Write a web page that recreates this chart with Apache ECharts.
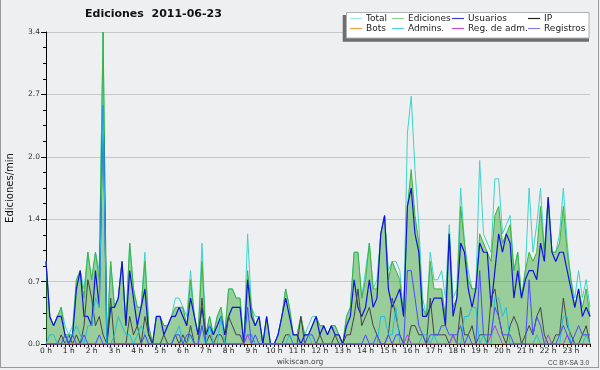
<!DOCTYPE html>
<html>
<head>
<meta charset="utf-8">
<script src="https://cdn.jsdelivr.net/npm/echarts@6/dist/echarts.min.js"></script>
<style>html,body{margin:0;padding:0;background:#eeeff0;}#c{width:600px;height:370px;}</style>
</head>
<body>
<div id="c"></div>
<script>
// Tick labels
var hourLabels = ['0 h','1 h','2 h','3 h','4 h','5 h','6 h','7 h','8 h','9 h','10 h','11 h',
  '12 h','13 h','14 h','15 h','16 h','17 h','18 h','19 h','20 h','21 h','22 h','23 h'];
var minuteSlots = ['00','10','20','30','40','50'];
var yTicks = [0, 0.68, 1.36, 2.04, 2.72, 3.4];

// Series values (edits/min, one value per 10 minutes, 6 per hour)
var total = [
  0.9,0.3,0.2,0.3,0.4,0.2, 0.1,0.2,0.7,0.8,0.6,1.0, 0.7,1.0,0.8,3.4,0.0,0.9, 0.4,0.5,0.9,0.2,1.1,0.6,
  0.4,0.4,1.0,0.2,0.0,0.3, 0.3,0.2,0.2,0.3,0.5,0.5, 0.4,0.3,0.8,0.3,0.1,1.1, 0.1,0.3,0.1,0.3,0.4,0.1,
  0.6,0.6,0.5,0.5,0.0,1.2, 0.4,0.3,0.3,0.0,0.3,0.0, 0.0,0.1,0.3,0.6,0.4,0.1, 0.1,0.3,0.1,0.2,0.3,0.3,
  0.2,0.2,0.1,0.2,0.2,0.1, 0.0,0.3,0.4,1.0,1.0,0.5, 0.8,1.1,0.6,0.7,1.2,1.4, 0.8,0.9,0.9,0.8,0.3,2.3,
  2.7,1.9,1.3,0.5,0.3,1.0, 0.7,0.7,0.8,0.5,1.3,0.5, 0.6,1.7,1.1,0.8,0.6,0.6, 2.0,1.2,1.1,1.0,1.8,1.8,
  1.2,1.3,1.4,0.8,1.0,0.5, 0.8,1.7,1.0,1.3,1.7,1.0, 1.6,1.0,1.0,1.2,1.7,1.1, 0.7,0.5,0.8,0.5,0.7,0.4];
var ediciones = [
  0.9,0.3,0.2,0.3,0.4,0.1, 0.1,0.1,0.7,0.8,0.5,1.0, 0.7,1.0,0.7,3.4,0.0,0.9, 0.4,0.5,0.9,0.2,1.1,0.6,
  0.4,0.4,0.9,0.2,0.0,0.3, 0.3,0.2,0.2,0.3,0.4,0.4, 0.4,0.2,0.7,0.3,0.1,0.9, 0.1,0.3,0.1,0.3,0.4,0.1,
  0.6,0.6,0.5,0.5,0.0,0.8, 0.4,0.2,0.3,0.0,0.3,0.0, 0.0,0.1,0.3,0.6,0.4,0.1, 0.1,0.3,0.1,0.1,0.2,0.3,
  0.2,0.2,0.1,0.2,0.2,0.1, 0.0,0.3,0.4,1.0,1.0,0.5, 0.7,1.1,0.6,0.6,1.2,1.4, 0.7,0.9,0.8,0.7,0.3,1.5,
  1.9,1.4,1.1,0.4,0.3,0.9, 0.6,0.6,0.6,0.3,1.2,0.4, 0.5,1.5,1.1,0.7,0.6,0.6, 1.2,1.1,1.0,0.9,1.4,1.5,
  1.1,1.2,1.3,0.8,1.0,0.5, 0.8,1.0,0.9,1.0,1.5,1.0, 1.6,1.0,1.0,1.1,1.5,1.0, 0.7,0.4,0.6,0.4,0.6,0.3];
var usuarios = [
  0.9,0.3,0.2,0.3,0.3,0.1, 0.0,0.1,0.6,0.8,0.3,0.3, 0.2,0.8,0.4,2.6,0.0,0.4, 0.4,0.5,0.9,0.2,0.8,0.5,
  0.2,0.4,0.6,0.1,0.0,0.3, 0.3,0.1,0.2,0.3,0.3,0.4, 0.3,0.2,0.5,0.3,0.1,0.4, 0.1,0.2,0.1,0.2,0.3,0.1,
  0.3,0.4,0.4,0.4,0.0,0.7, 0.3,0.2,0.3,0.0,0.3,0.0, 0.0,0.1,0.3,0.5,0.3,0.1, 0.1,0.0,0.1,0.1,0.2,0.3,
  0.1,0.2,0.1,0.2,0.1,0.1, 0.0,0.2,0.3,0.7,0.4,0.3, 0.4,0.7,0.4,0.5,1.2,1.4, 0.6,0.4,0.5,0.6,0.3,1.5,
  1.7,1.2,1.0,0.3,0.3,0.4, 0.5,0.5,0.5,0.2,1.2,0.3, 0.5,1.1,1.0,0.6,0.4,0.6, 1.1,1.0,1.0,0.4,0.8,1.2,
  1.0,1.2,1.1,0.5,0.8,0.5, 0.7,0.8,0.8,0.7,1.1,0.9, 1.6,1.0,0.9,1.0,1.0,0.8, 0.6,0.4,0.6,0.3,0.4,0.3];
var ip = [
  0,0,0,0,0.1,0, 0.1,0,0.1,0,0.2,0.7, 0.5,0.2,0.3,0.1,0,0.5, 0,0,0,0,0.3,0.1,
  0.2,0,0.3,0.1,0,0, 0,0.1,0,0,0.1,0, 0.1,0,0.2,0,0,0.5, 0,0.1,0,0.1,0.1,0,
  0.3,0.2,0.1,0.1,0,0.1, 0.1,0,0,0,0,0, 0,0,0,0.1,0.1,0, 0,0.3,0,0,0,0,
  0.1,0,0,0,0.1,0, 0,0.1,0.1,0.3,0.6,0.2, 0.3,0.4,0.2,0.1,0,0, 0.1,0.5,0.3,0.1,0,0,
  0.2,0.2,0.1,0.1,0,0.5, 0.1,0.1,0.1,0.1,0,0.1, 0,0.4,0.1,0.1,0.2,0, 0.1,0.1,0,0.5,0.6,0.3,
  0.1,0,0.2,0.3,0.2,0, 0.1,0.2,0.1,0.3,0.4,0.1, 0,0,0.1,0.1,0.5,0.2, 0.1,0,0,0.1,0.2,0];
var bots = [
  0,0,0,0,0,0, 0,0,0,0,0,0, 0,0,0,0,0,0, 0,0,0,0,0,0,
  0,0,0,0,0,0, 0,0,0,0,0,0, 0,0,0,0,0,0, 0,0,0,0,0,0,
  0,0,0,0,0,0, 0,0,0,0,0,0, 0,0,0,0,0,0, 0,0,0,0,0,0,
  0,0,0,0,0,0, 0,0,0,0,0,0, 0,0,0,0,0,0, 0,0,0,0,0,0,
  0,0,0,0,0,0, 0,0,0,0,0,0, 0,0,0,0,0,0, 0,0,0,0,0,0,
  0,0,0,0,0,0, 0,0,0,0,0,0, 0,0,0,0,0,0, 0,0,0,0,0,0];
var admins = [
  0,0.1,0.1,0,0,0, 0.1,0.1,0.2,0.1,0,0.2, 0.2,0.5,0.4,2.6,0,0, 0.1,0.3,0.2,0.1,0.1,0,
  0.1,0.2,0.1,0,0,0, 0,0,0,0,0.1,0.2, 0,0,0.1,0,0,0.2, 0,0.2,0,0,0.3,0,
  0,0,0,0,0,0.1, 0.1,0,0,0,0,0, 0,0,0,0,0.1,0, 0,0,0,0.1,0,0,
  0,0,0,0,0,0, 0,0,0,0,0,0, 0,0,0,0,0.3,0.3, 0.1,0.1,0.4,0,0,0,
  0,0,0,0.1,0.1,0, 0.1,0,0,0,0,0.1, 0,0,0.3,0.3,0.4,0.4, 0,0.1,0,0,0.5,0.5,
  0.3,0.4,0,0,0,0, 0,0,0,0.1,0,0, 0,0,0,0,0.3,0.3, 0,0,0,0,0.1,0];
var regAdm = [
  0,0,0,0,0,0, 0,0,0,0,0,0, 0,0,0,0,0,0, 0,0,0,0,0,0,
  0,0,0,0,0,0, 0,0,0,0,0,0, 0,0,0,0,0,0, 0,0,0,0,0,0,
  0,0,0,0,0,0.1, 0,0,0,0,0,0, 0,0,0,0,0,0, 0,0,0,0,0,0,
  0,0,0,0,0,0, 0,0,0,0,0,0, 0,0,0,0,0,0, 0,0,0,0,0,0.1,
  0,0,0,0,0,0, 0,0,0,0,0,0.1, 0,0,0,0,0,0, 0,0,0,0.1,0.2,0.1,
  0,0,0,0,0,0, 0,0,0,0,0,0, 0.1,0,0,0,0,0.1, 0,0,0,0,0,0];
var registros = [
  0,0,0,0,0,0.1, 0,0.1,0,0,0.1,0, 0,0,0.1,0,0,0, 0,0,0,0,0,0,
  0,0,0.1,0,0,0, 0,0,0,0,0.1,0.1, 0,0.1,0.1,0,0,0.2, 0,0,0,0,0,0,
  0,0,0,0,0,0.4, 0,0.1,0,0,0,0, 0,0,0,0,0,0, 0,0,0,0.1,0.1,0,
  0,0,0,0,0,0, 0,0,0,0,0,0, 0.1,0,0,0.1,0,0, 0.1,0,0.1,0.1,0,0.8,
  0.8,0.5,0.2,0.1,0,0.1, 0.1,0.1,0.2,0.2,0.1,0.1, 0.1,0.2,0,0.1,0,0, 0.8,0.1,0.1,0.1,0.4,0.3,
  0.1,0.1,0.1,0,0,0, 0,0.7,0.1,0.3,0.2,0, 0,0,0,0.1,0.2,0.1, 0,0.1,0.2,0.1,0.1,0.1];

var categories = [];
hourLabels.forEach(function (h, hi) {
  minuteSlots.forEach(function (m) { categories.push(hi + ':' + m); });
});

var names = ['Total','Ediciones','Usuarios','IP','Bots','Admins.','Reg. de adm.','Registros'];
var legendColors = ['#a6e3e3','#8fd08f','#3c3cdc','#222222','#f5a040','#50cfe0','#c850d8','#8080f0'];
var legendLeft = [350, 392, 452, 528, 350, 392, 452, 528];
var legendTop = [14, 14, 14, 14, 24, 24, 24, 24];

var legends = names.map(function (n, k) {
  return {
    data: [{ name: n, itemStyle: { color: legendColors[k] } }],
    left: legendLeft[k], top: legendTop[k], padding: 0, z: 20,
    icon: 'rect', itemWidth: 12, itemHeight: 1.2, itemGap: 0,
    selectedMode: false,
    textStyle: { fontFamily: 'DejaVu Sans', fontSize: 9, color: '#222', padding: [0,0,0,-1] }
  };
});

function lineSeries(name, data, color, width) {
  return {
    name: name, type: 'line', data: data, showSymbol: false, symbol: 'none',
    lineStyle: { color: color, width: width }, itemStyle: { color: color },
    animation: false, z: 2
  };
}

var series = [
  lineSeries('Total', total, '#3dd3cc', 1),
  Object.assign(lineSeries('Ediciones', ediciones, '#3cb43c', 1), {
    areaStyle: { color: 'rgb(60,170,60)', opacity: 0.48 }
  }),
  lineSeries('Usuarios', usuarios, '#1212e0', 1.2),
  lineSeries('IP', ip, '#444444', 1),
  lineSeries('Bots', bots, '#ff9900', 1),
  lineSeries('Admins.', admins, '#22bfe0', 1),
  lineSeries('Reg. de adm.', regAdm, '#b83ee0', 1),
  lineSeries('Registros', registros, '#4a4aff', 1)
];

var chart = echarts.init(document.getElementById('c'), null, { renderer: 'canvas' });
chart.setOption({
  backgroundColor: '#eeeff0',
  animation: false,
  title: {
    text: 'Ediciones  2011-06-23', left: 85, top: 9, padding: 0,
    textStyle: { fontFamily: 'DejaVu Sans', fontSize: 11, fontWeight: 'bold', color: '#111' }
  },
  legend: legends,
  grid: { left: 46, right: 10, top: 32, bottom: 26, containLabel: false, outerBoundsMode: 'none' },
  xAxis: {
    type: 'category', data: categories, boundaryGap: false,
    axisLine: { lineStyle: { color: '#000', width: 1 } },
    axisTick: { show: true, interval: 0, length: 3, lineStyle: { color: '#000' } },
    axisLabel: {
      interval: function (idx) { return idx % 6 === 0; },
      formatter: function (v, idx) { return hourLabels[Math.floor(idx / 6)]; },
      fontFamily: 'DejaVu Sans', fontSize: 7.5, color: '#222', margin: 3
    },
    splitLine: { show: false }
  },
  yAxis: {
    type: 'value', min: yTicks[0], max: yTicks[yTicks.length - 1], interval: yTicks[1],
    name: 'Ediciones/min', nameLocation: 'middle', nameGap: 31,
    nameTextStyle: { fontFamily: 'DejaVu Sans', fontSize: 10, color: '#111' },
    axisLine: { show: true, lineStyle: { color: '#000', width: 1 } },
    axisTick: { show: true, length: 5, lineStyle: { color: '#000' } },
    minorTick: { show: true, splitNumber: 4, length: 3, lineStyle: { color: '#000' } },
    axisLabel: {
      formatter: function (v) { return v.toFixed(1); },
      fontFamily: 'DejaVu Sans', fontSize: 7.5, color: '#333', margin: 6
    },
    splitLine: { show: true, lineStyle: { color: '#c8c8c8', width: 1 } }
  },
  graphic: {
    elements: [
      { type: 'rect', z: 18, shape: { x: 342.7, y: 15, width: 246.3, height: 26.7 }, style: { fill: '#6e6e6e' } },
      { type: 'rect', z: 19, shape: { x: 346.5, y: 12.5, width: 242.5, height: 25.5 }, style: { fill: '#ffffff', stroke: '#b0b0b0', lineWidth: 1 } },
      { type: 'text', z: 20, style: { text: 'wikiscan.org', x: 300, y: 362, align: 'center', verticalAlign: 'middle', textAlign: 'center', textVerticalAlign: 'middle', fontFamily: 'DejaVu Sans', fontSize: 7.5, fill: '#444' } },
      { type: 'text', z: 20, style: { text: 'CC BY-SA 3.0', x: 589, y: 363, align: 'right', verticalAlign: 'middle', textAlign: 'right', textVerticalAlign: 'middle', fontFamily: 'Liberation Sans', fontSize: 6.5, fill: '#444' } },
      { type: 'line', z: 20, shape: { x1: 0.5, y1: 0, x2: 0.5, y2: 368 }, style: { stroke: '#9a9a9a', lineWidth: 1 } },
      { type: 'line', z: 20, shape: { x1: 598.5, y1: 0, x2: 598.5, y2: 368 }, style: { stroke: '#9a9a9a', lineWidth: 1 } },
      { type: 'line', z: 20, shape: { x1: 0, y1: 367.5, x2: 599, y2: 367.5 }, style: { stroke: '#9a9a9a', lineWidth: 1 } }
    ]
  },
  series: series
});
</script>
</body>
</html>
